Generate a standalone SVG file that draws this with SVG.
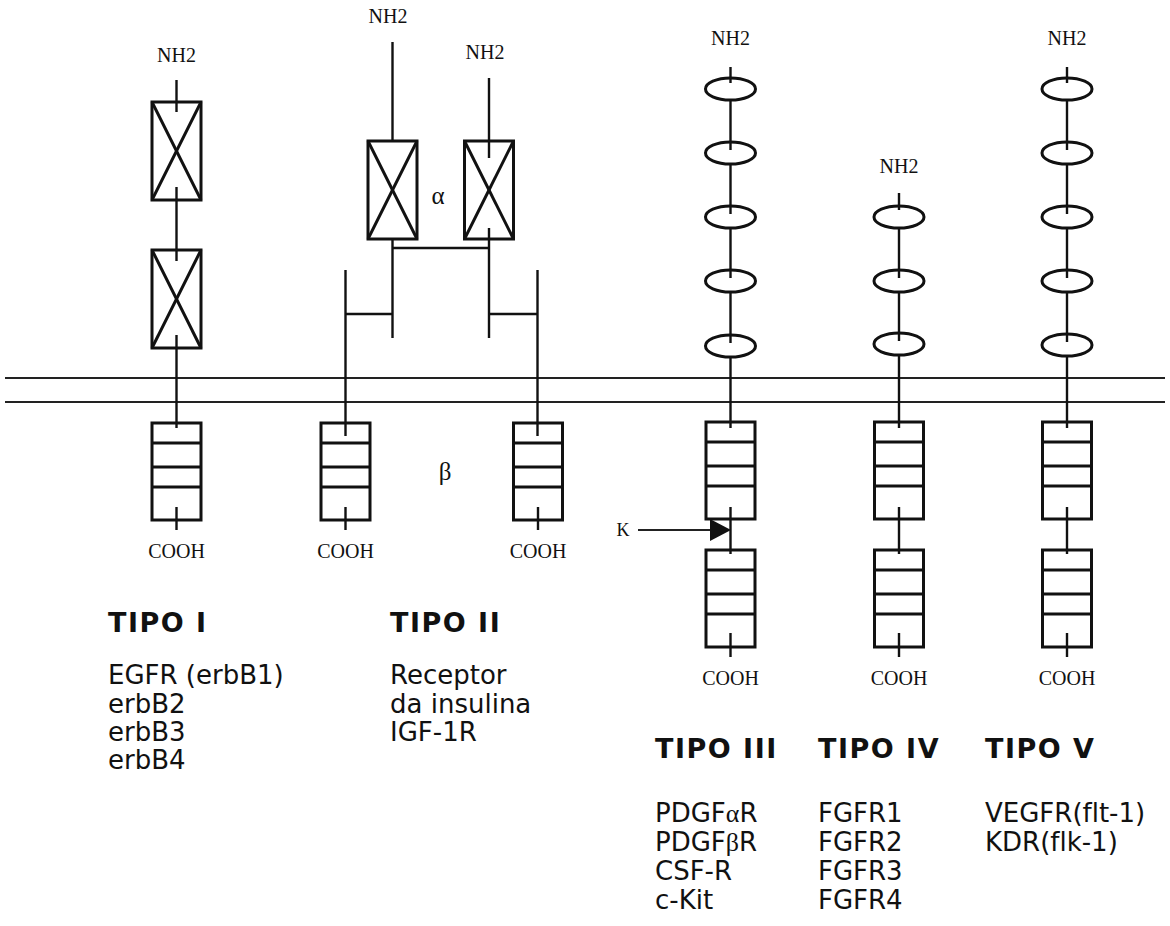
<svg xmlns="http://www.w3.org/2000/svg" xmlns:xlink="http://www.w3.org/1999/xlink" width="1170" height="926" viewBox="0 0 1170 926">
<style>
.ln{stroke:#111;stroke-width:2.4;fill:none}
.mb{stroke:#222;stroke-width:2;fill:none}
.bx{stroke:#111;stroke-width:3;fill:none}
.sf{font-family:"Liberation Serif","Times New Roman",serif;font-size:20px;text-anchor:middle;fill:#111}
.gr{font-family:"Liberation Serif","Times New Roman",serif;font-size:25px;text-anchor:middle;fill:#111}
.hd{font-family:"DejaVu Sans",Verdana,sans-serif;font-weight:bold;font-size:27px;fill:#111;letter-spacing:1.5px;font-variant-ligatures:none}
.tx{font-family:"DejaVu Sans",Verdana,sans-serif;font-size:26px;fill:#111;font-variant-ligatures:none}
</style>
<defs>
<g id="kin" class="bx"><rect x="-24.5" y="0" width="49" height="97"/><line x1="-24.5" y1="20" x2="24.5" y2="20"/><line x1="-24.5" y1="44" x2="24.5" y2="44"/><line x1="-24.5" y1="64" x2="24.5" y2="64"/></g>
<g id="xb" class="bx"><rect x="-24.5" y="0" width="49" height="98"/><line x1="-24.5" y1="0" x2="24.5" y2="98"/><line x1="24.5" y1="0" x2="-24.5" y2="98"/></g>
<ellipse id="ig" class="bx" cx="0" cy="0" rx="25" ry="11"/>
</defs>
<rect width="1170" height="926" fill="#fff"/>
<g id="membrane">
<line class="mb" x1="5" y1="378" x2="1165" y2="378"/>
<line class="mb" x1="5" y1="402" x2="1165" y2="402"/>
</g>
<g id="tipo1">
<text class="sf" x="176.5" y="62">NH2</text>
<line class="ln" x1="176.5" y1="80" x2="176.5" y2="112"/>
<use xlink:href="#xb" x="176.5" y="102"/>
<line class="ln" x1="176.5" y1="187" x2="176.5" y2="261"/>
<use xlink:href="#xb" x="176.5" y="250"/>
<line class="ln" x1="176.5" y1="335" x2="176.5" y2="428"/>
<use xlink:href="#kin" x="176.5" y="423"/>
<line class="ln" x1="176.5" y1="507" x2="176.5" y2="530"/>
<text class="sf" x="176.5" y="558">COOH</text>
</g>
<g id="tipo2">
<text class="sf" x="388" y="23">NH2</text>
<text class="sf" x="485" y="59">NH2</text>
<line class="ln" x1="392.5" y1="42" x2="392.5" y2="141"/>
<use xlink:href="#xb" x="392.5" y="141"/>
<line class="ln" x1="392.5" y1="239" x2="392.5" y2="338"/>
<line class="ln" x1="489" y1="78" x2="489" y2="158"/>
<use xlink:href="#xb" x="489" y="141"/>
<line class="ln" x1="489" y1="228" x2="489" y2="338"/>
<line class="ln" x1="392.5" y1="248" x2="489" y2="248"/>
<line class="ln" x1="345.5" y1="314" x2="392.5" y2="314"/>
<line class="ln" x1="489" y1="314" x2="537.5" y2="314"/>
<line class="ln" x1="345.5" y1="270" x2="345.5" y2="436"/>
<line class="ln" x1="537.5" y1="270" x2="537.5" y2="436"/>
<use xlink:href="#kin" x="345.5" y="423"/>
<use xlink:href="#kin" x="538" y="423"/>
<line class="ln" x1="345.5" y1="507" x2="345.5" y2="530"/>
<line class="ln" x1="538" y1="507" x2="538" y2="530"/>
<text class="sf" x="345.5" y="558">COOH</text>
<text class="sf" x="538" y="558">COOH</text>
<text class="gr" x="438" y="204">α</text>
<text class="gr" x="445" y="480">β</text>
</g>
<g id="tipo3">
<text class="sf" x="730.5" y="45">NH2</text>
<line class="ln" x1="730.5" y1="67" x2="730.5" y2="83"/>
<use xlink:href="#ig" x="730.5" y="89"/>
<line class="ln" x1="730.5" y1="100" x2="730.5" y2="150"/>
<use xlink:href="#ig" x="730.5" y="153"/>
<line class="ln" x1="730.5" y1="164" x2="730.5" y2="214"/>
<use xlink:href="#ig" x="730.5" y="217"/>
<line class="ln" x1="730.5" y1="228" x2="730.5" y2="278"/>
<use xlink:href="#ig" x="730.5" y="281"/>
<line class="ln" x1="730.5" y1="292" x2="730.5" y2="343"/>
<use xlink:href="#ig" x="730.5" y="346"/>
<line class="ln" x1="730.5" y1="357" x2="730.5" y2="428"/>
<use xlink:href="#kin" x="730.5" y="422"/>
<line class="ln" x1="730.5" y1="507" x2="730.5" y2="554"/>
<use xlink:href="#kin" x="730.5" y="550"/>
<line class="ln" x1="730.5" y1="633" x2="730.5" y2="657"/>
<text class="sf" x="730.5" y="685">COOH</text>
</g>
<g id="tipo4">
<text class="sf" x="899" y="173">NH2</text>
<line class="ln" x1="899" y1="193" x2="899" y2="210"/>
<use xlink:href="#ig" x="899" y="217"/>
<line class="ln" x1="899" y1="228" x2="899" y2="278"/>
<use xlink:href="#ig" x="899" y="281"/>
<line class="ln" x1="899" y1="292" x2="899" y2="341"/>
<use xlink:href="#ig" x="899" y="344"/>
<line class="ln" x1="899" y1="355" x2="899" y2="428"/>
<use xlink:href="#kin" x="899" y="422"/>
<line class="ln" x1="899" y1="507" x2="899" y2="554"/>
<use xlink:href="#kin" x="899" y="550"/>
<line class="ln" x1="899" y1="633" x2="899" y2="657"/>
<text class="sf" x="899" y="685">COOH</text>
</g>
<g id="tipo5">
<text class="sf" x="1067" y="45">NH2</text>
<line class="ln" x1="1067" y1="67" x2="1067" y2="83"/>
<use xlink:href="#ig" x="1067" y="89"/>
<line class="ln" x1="1067" y1="100" x2="1067" y2="150"/>
<use xlink:href="#ig" x="1067" y="153"/>
<line class="ln" x1="1067" y1="164" x2="1067" y2="214"/>
<use xlink:href="#ig" x="1067" y="217"/>
<line class="ln" x1="1067" y1="228" x2="1067" y2="278"/>
<use xlink:href="#ig" x="1067" y="281"/>
<line class="ln" x1="1067" y1="292" x2="1067" y2="342"/>
<use xlink:href="#ig" x="1067" y="345"/>
<line class="ln" x1="1067" y1="356" x2="1067" y2="428"/>
<use xlink:href="#kin" x="1067" y="422"/>
<line class="ln" x1="1067" y1="507" x2="1067" y2="554"/>
<use xlink:href="#kin" x="1067" y="550"/>
<line class="ln" x1="1067" y1="633" x2="1067" y2="657"/>
<text class="sf" x="1067" y="685">COOH</text>
</g>
<g id="connectors">
<text class="sf" x="623" y="536" style="font-size:18px">K</text>
<line class="mb" x1="638" y1="530" x2="712" y2="530"/>
<polygon points="710,519 731,530 710,541" fill="#111"/>
</g>
<g id="labels">
<text class="hd" x="108" y="632">TIPO I</text>
<text class="tx" x="108" y="684">EGFR (erbB1)</text>
<text class="tx" x="108" y="713">erbB2</text>
<text class="tx" x="108" y="741">erbB3</text>
<text class="tx" x="108" y="769">erbB4</text>
<text class="hd" x="390" y="632">TIPO II</text>
<text class="tx" x="390" y="684">Receptor</text>
<text class="tx" x="390" y="713">da insulina</text>
<text class="tx" x="390" y="741">IGF-1R</text>
<text class="hd" x="655" y="758">TIPO III</text>
<text class="hd" x="818" y="758">TIPO IV</text>
<text class="hd" x="985" y="758">TIPO V</text>
<text class="tx" x="655" y="822">PDGF<tspan font-family="Liberation Serif,serif">α</tspan>R</text>
<text class="tx" x="655" y="851">PDGF<tspan font-family="Liberation Serif,serif">β</tspan>R</text>
<text class="tx" x="655" y="880">CSF-R</text>
<text class="tx" x="655" y="909">c-Kit</text>
<text class="tx" x="818" y="822">FGFR1</text>
<text class="tx" x="818" y="851">FGFR2</text>
<text class="tx" x="818" y="880">FGFR3</text>
<text class="tx" x="818" y="909">FGFR4</text>
<text class="tx" x="985" y="822">VEGFR(flt-1)</text>
<text class="tx" x="985" y="851">KDR(flk-1)</text>
</g>
</svg>
